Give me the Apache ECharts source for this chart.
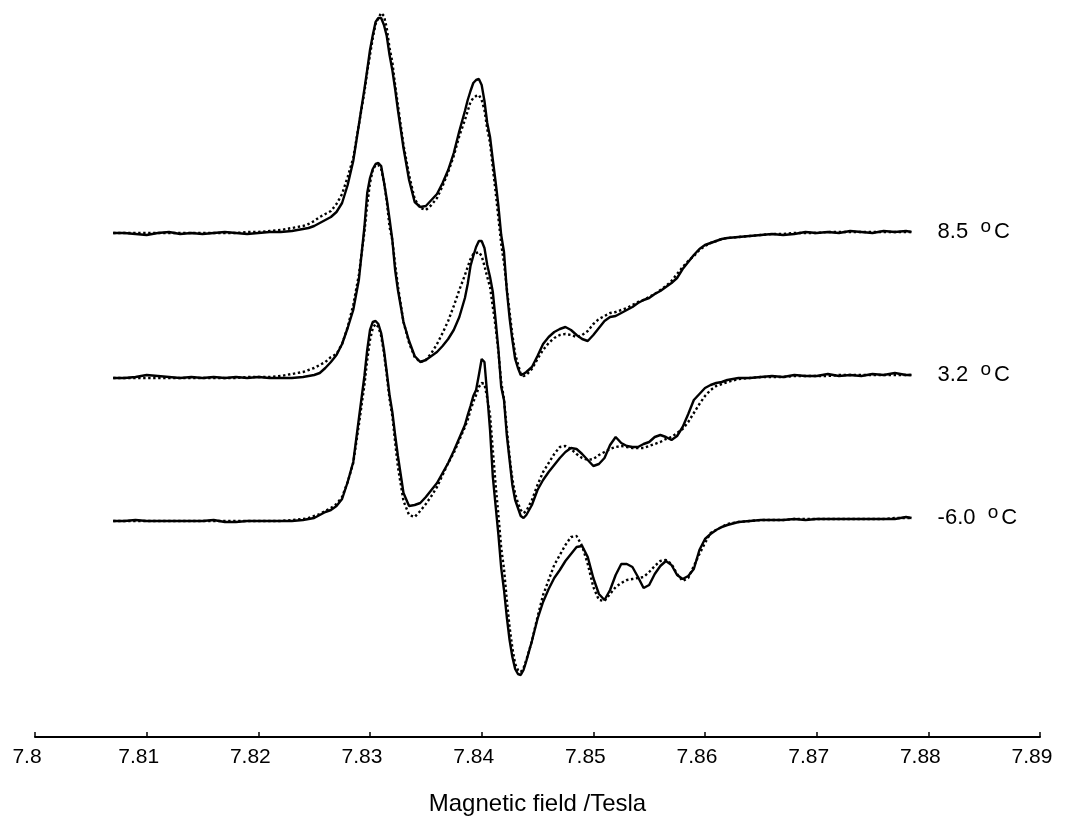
<!DOCTYPE html>
<html>
<head>
<meta charset="utf-8">
<title>EPR spectra</title>
<script src="https://cdn.jsdelivr.net/npm/echarts@6.0.0/dist/echarts.min.js"></script>
<style>
  html, body { margin: 0; padding: 0; background: #fff; }
  #chart { width: 1070px; height: 819px; }
</style>
</head>
<body>
<div id="chart"></div>
<script>
// magnetic field grid (Tesla), shared by all traces
const field = [
  7.807, 7.808, 7.809, 7.810, 7.811, 7.812, 7.813, 7.814, 7.815, 7.816, 7.817, 7.818, 7.819, 7.820, 7.821, 7.822, 7.823, 7.824,
  7.8245, 7.825, 7.8255, 7.826, 7.8265, 7.827, 7.8275, 7.828, 7.8285, 7.829, 7.8295,
  7.82975, 7.83, 7.83025, 7.8305, 7.83075, 7.831, 7.83125, 7.8315, 7.83175, 7.832, 7.83225,
  7.8325, 7.833, 7.8335, 7.834, 7.8345, 7.835, 7.8355, 7.836, 7.8365, 7.837, 7.8375, 7.838, 7.8385,
  7.83875, 7.839, 7.83925, 7.8395, 7.83975, 7.84, 7.84025, 7.8405, 7.84075, 7.841, 7.84125, 7.8415, 7.84175, 7.842, 7.84225, 7.8425, 7.84275, 7.843, 7.84325, 7.8435, 7.84375, 7.844,
  7.8445, 7.845, 7.8455, 7.846, 7.8465, 7.847, 7.8475, 7.848, 7.8485, 7.849, 7.8495, 7.85, 7.8505, 7.851, 7.8515, 7.852, 7.8525, 7.853, 7.8535, 7.854, 7.8545, 7.855, 7.8555, 7.856, 7.8565, 7.857, 7.8575, 7.858, 7.8585, 7.859, 7.8595, 7.86, 7.8605, 7.861, 7.8615, 7.862,
  7.863, 7.864, 7.865, 7.866, 7.867, 7.868, 7.869, 7.87, 7.871, 7.872, 7.873, 7.874, 7.875, 7.876, 7.877, 7.878, 7.8785
];

// 8.5 C : experiment (solid) and simulation (dotted), arbitrary units
const exp85 = [
  0, 0, -1, -2, 0, 1, -1, 0, -1, 0, 1, 0, -1, 0, 1, 1, 2, 4,
  5, 7, 10, 13, 16, 21, 30, 48, 72, 108, 144,
  163, 183, 198, 211, 215, 215, 208, 197, 178, 163, 144,
  123, 85, 53, 31, 26, 27, 33, 39, 50, 63, 80, 102, 122,
  133, 142, 150, 153, 154, 148, 132, 110, 96, 73, 51, 27, -2, -19, -57, -85, -107, -126, -135, -142, -141, -139,
  -134, -123, -111, -104, -99, -96, -94, -97, -102, -106, -108, -102, -95, -88, -84, -83, -80, -77, -74, -70, -67, -65, -61, -58, -54, -50, -45, -36, -29, -22, -16, -12, -10, -8, -6, -5,
  -4, -3, -2, -1, -2, -1, 1, 0, 1, 0, 2, 1, 0, 2, 1, 2, 1
];
const sim85 = [
  0, 0, 0, 0, 0, 0, 0, 0, 0, 0, 0, 0, 1, 1, 2, 3, 5, 7,
  9, 12, 16, 19, 22, 29, 39, 56, 75, 108, 141,
  161, 178, 195, 209, 215, 220, 217, 205, 185, 171, 148,
  128, 88, 58, 34, 25, 23, 28, 35, 47, 61, 77, 97, 113,
  122, 131, 135, 137, 138, 133, 123, 104, 90, 65, 41, 15, -11, -30, -55, -79, -102, -121, -131, -141, -143, -142,
  -136, -126, -117, -110, -105, -102, -101, -102, -104, -102, -98, -91, -86, -83, -80, -79, -77, -75, -72, -69, -67, -64, -61, -57, -53, -48, -41, -34, -28, -23, -17, -13, -10, -8, -6, -5,
  -4, -3, -2, -1, -1, 0, 0, 0, 1, 1, 1, 1, 1, 1, 1, 1, 1
];

// 3.2 C
const exp32 = [
  -1, -1, 0, 2, 1, 0, -1, 0, -1, 0, -1, 0, -1, 0, -1, -1, -1, 0,
  1, 2, 4, 9, 15, 22, 33, 49, 67, 97, 150,
  184, 199, 208, 213, 214, 211, 195, 178, 158, 137, 107,
  87, 55, 36, 21, 15, 17, 21, 25, 31, 38, 47, 60, 79,
  93, 111, 121, 130, 136, 136, 129, 112, 100, 85, 57, 27, -10, -23, -58, -83, -108, -123, -131, -139, -141, -138,
  -128, -113, -103, -95, -88, -81, -75, -71, -72, -77, -83, -89, -87, -81, -68, -60, -66, -69, -70, -70, -67, -65, -60, -58, -60, -63, -59, -50, -37, -23, -17, -11, -8, -6, -5, -3,
  -1, -1, 0, 1, 0, 2, 1, 1, 3, 1, 2, 1, 3, 2, 4, 2, 2
];
const sim32 = [
  -1, -1, -1, -1, -1, -1, -1, -1, -1, -1, -1, -1, 0, 0, 0, 1, 3, 5,
  7, 9, 12, 15, 20, 23, 33, 50, 72, 102, 145,
  172, 194, 207, 212, 212, 208, 195, 176, 150, 137, 113,
  91, 55, 34, 20, 15, 17, 24, 33, 44, 56, 71, 87, 102,
  110, 118, 123, 124, 125, 121, 111, 100, 90, 70, 50, 25, -5, -22, -52, -80, -102, -117, -126, -133, -136, -134,
  -123, -108, -95, -86, -77, -70, -69, -72, -77, -81, -83, -82, -78, -75, -72, -70, -69, -70, -71, -71, -71, -69, -67, -65, -62, -60, -56, -52, -45, -36, -27, -19, -13, -9, -7, -5,
  -2, -1, 0, 0, 0, 1, 1, 1, 1, 2, 2, 2, 2, 2, 2, 2, 2
];

// -6.0 C
const exp60 = [
  -1, -1, 0, -1, -1, -1, -1, -1, -1, 0, -2, -2, -1, -1, -1, -1, -1, 0,
  1, 2, 5, 8, 10, 14, 21, 38, 58, 101, 144,
  170, 190, 198, 199, 196, 187, 170, 148, 125, 108, 85,
  64, 27, 14, 15, 17, 23, 30, 37, 47, 57, 69, 82, 95,
  105, 114, 124, 130, 145, 161, 158, 125, 90, 43, 14, -15, -48, -70, -97, -120, -137, -149, -154, -155, -150, -141,
  -121, -99, -82, -69, -58, -50, -41, -34, -27, -26, -37, -58, -74, -80, -70, -55, -44, -44, -47, -57, -68, -65, -54, -46, -41, -45, -55, -59, -56, -49, -30, -19, -14, -10, -7, -5,
  -2, -1, 0, 0, 0, 1, 0, 1, 1, 1, 1, 1, 1, 1, 1, 3, 2
];
const sim60 = [
  -1, -1, -1, -1, -1, -1, -1, -1, -1, -1, -1, -1, -1, -1, -1, -1, 0, 1,
  2, 4, 6, 9, 12, 16, 23, 38, 57, 95, 135,
  160, 180, 192, 196, 193, 184, 167, 145, 121, 104, 78,
  53, 19, 5, 3, 9, 16, 24, 33, 45, 57, 67, 80, 93,
  100, 110, 118, 125, 133, 137, 136, 122, 105, 70, 35, 5, -28, -49, -80, -107, -128, -144, -150, -152, -148, -140,
  -121, -97, -75, -60, -45, -35, -25, -17, -16, -26, -44, -67, -80, -81, -74, -67, -63, -60, -59, -58, -57, -52, -46, -41, -40, -44, -54, -61, -58, -46, -34, -23, -13, -10, -7, -4,
  -2, -1, 0, 0, 0, 1, 1, 1, 1, 1, 1, 1, 1, 1, 2, 2, 2
];

const temps = ['8.5', '3.2', '-6.0'];
const baseOffsets = [504, 360, 217];   // vertical stacking of the traces
const fieldTicks = [7.8, 7.81, 7.82, 7.83, 7.84, 7.85, 7.86, 7.87, 7.88, 7.89];

const expTraces = [exp85, exp32, exp60];
const simTraces = [sim85, sim32, sim60];

const toPoints = (vals, off) => field.map((f, i) => [f, vals[i] + off]);
const font = 'Liberation Sans, Arial, sans-serif';

const series = [];
temps.forEach((t, k) => {
  series.push({
    type: 'line',
    name: t + ' sim',
    data: toPoints(simTraces[k], baseOffsets[k]),
    showSymbol: false,
    symbol: 'none',
    silent: true,
    lineStyle: { color: '#000', width: 2.4, type: [2.4, 2.6] }
  });
  series.push({
    type: 'line',
    name: t + ' exp',
    data: toPoints(expTraces[k], baseOffsets[k]),
    showSymbol: false,
    symbol: 'none',
    silent: true,
    lineStyle: { color: '#000', width: 2.4 },
    endLabel: {
      show: true,
      distance: 26,
      formatter: '{t|' + t + '  }{o|o}{t|C}',
      rich: {
        t: { fontSize: 22, lineHeight: 30, color: '#000', fontFamily: font },
        o: { fontSize: 19, lineHeight: 19, verticalAlign: 'top', padding: [0, 3, 0, 0], color: '#000', fontFamily: font }
      }
    }
  });
});

const chart = echarts.init(document.getElementById('chart'));
chart.setOption({
  animation: false,
  backgroundColor: '#fff',
  grid: { left: 35, right: 30, top: 10, bottom: 82, containLabel: false, outerBoundsMode: 'none' },
  xAxis: {
    type: 'value',
    min: fieldTicks[0],
    max: fieldTicks[fieldTicks.length - 1],
    interval: 0.01,
    name: 'Magnetic field /Tesla',
    nameLocation: 'middle',
    nameGap: 55,
    nameTextStyle: { fontSize: 24, color: '#000', fontFamily: font },
    axisLine: { lineStyle: { color: '#000', width: 2 } },
    axisTick: { inside: true, length: 5, lineStyle: { color: '#000', width: 1.5 } },
    axisLabel: { fontSize: 21, color: '#000', margin: 10, padding: [0, 16, 0, 0], fontFamily: font },
    splitLine: { show: false }
  },
  yAxis: { type: 'value', min: 0, max: 727, show: false },
  series: series
});
</script>
</body>
</html>
